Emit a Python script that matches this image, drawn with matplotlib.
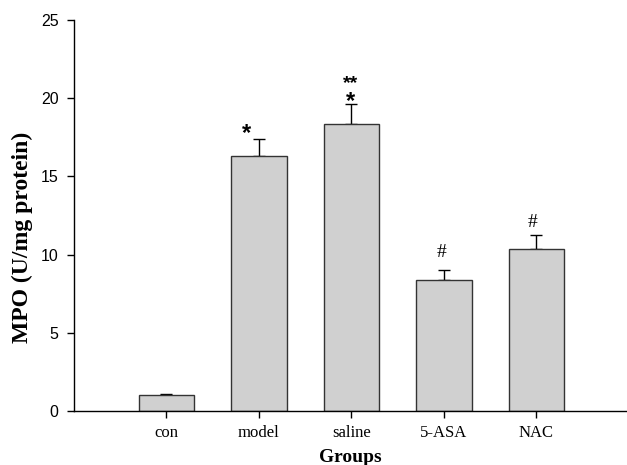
import matplotlib
matplotlib.use('Agg')
import matplotlib.pyplot as plt
import numpy as np

groups = ['con', 'model', 'saline', '5-ASA', 'NAC']
mpo = [1.02, 16.32, 18.37, 8.36, 10.34]
err = [0.05, 1.07, 1.24, 0.64, 0.91]
yticks = [0, 5, 10, 15, 20, 25]

# significance marks: (group index, text, centre height, x shift, size)
sig = [(1, '*', 18.19, -0.13, 17),
       (2, '*', 20.24, -0.01, 17),
       (2, '**', 21.32, -0.01, 14),
       (3, '#', 10.29, -0.03, 14),
       (4, '#', 12.18, -0.04, 14)]

serif = 'Liberation Serif'
sans = 'Liberation Sans'

fig = plt.figure(figsize=(6.27, 4.65), dpi=100)
ax = fig.add_axes([74 / 627, 1 - 411 / 465, 1 - 74 / 627, 391 / 465])

x = np.arange(len(groups))
ax.bar(x, mpo, width=0.6, color='#d0d0d0', edgecolor='#333333', linewidth=1.0, zorder=2)
ax.errorbar(x, mpo, yerr=[np.zeros(len(err)), err], fmt='none', ecolor='black',
            elinewidth=1.0, capsize=4, capthick=1.0, zorder=1)

px = 391 / 25  # pixels per data unit
for i, txt, yc, dx, fs in sig:
    if '*' in txt:
        # asterisk glyph sits ~0.56 em above the baseline
        base = yc - 0.56 * fs * 100 / 72 / px
        ax.text(x[i] + dx, base, txt, ha='center', va='baseline', fontsize=fs,
                family=sans, fontweight='bold')
    else:
        base = yc - 0.34 * fs * 100 / 72 / px
        ax.text(x[i] + dx, base, txt, ha='center', va='baseline', fontsize=fs, family=serif)

ax.set_xlim(-1, 4.98)
ax.set_ylim(0, 25)
ax.set_xticks(x)
ax.set_xticklabels(groups, family=serif, fontsize=12)
ax.set_yticks(yticks)
ax.set_yticklabels([str(v) for v in yticks], family=sans, fontsize=11.5)
ax.tick_params(direction='out', length=5, width=1, pad=6)
ax.tick_params(axis='x', pad=5)
for s in ['top', 'right']:
    ax.spines[s].set_visible(False)
ax.spines['left'].set_linewidth(1.0)
ax.spines['bottom'].set_linewidth(1.0)

ax.set_xlabel('Groups', family=serif, fontweight='bold', fontsize=14, labelpad=6)
ax.set_ylabel('MPO (U/mg protein)', family=serif, fontweight='bold', fontsize=17)
ax.yaxis.set_label_coords(-0.074, 0.445)

fig.savefig('out.png', dpi=100)
